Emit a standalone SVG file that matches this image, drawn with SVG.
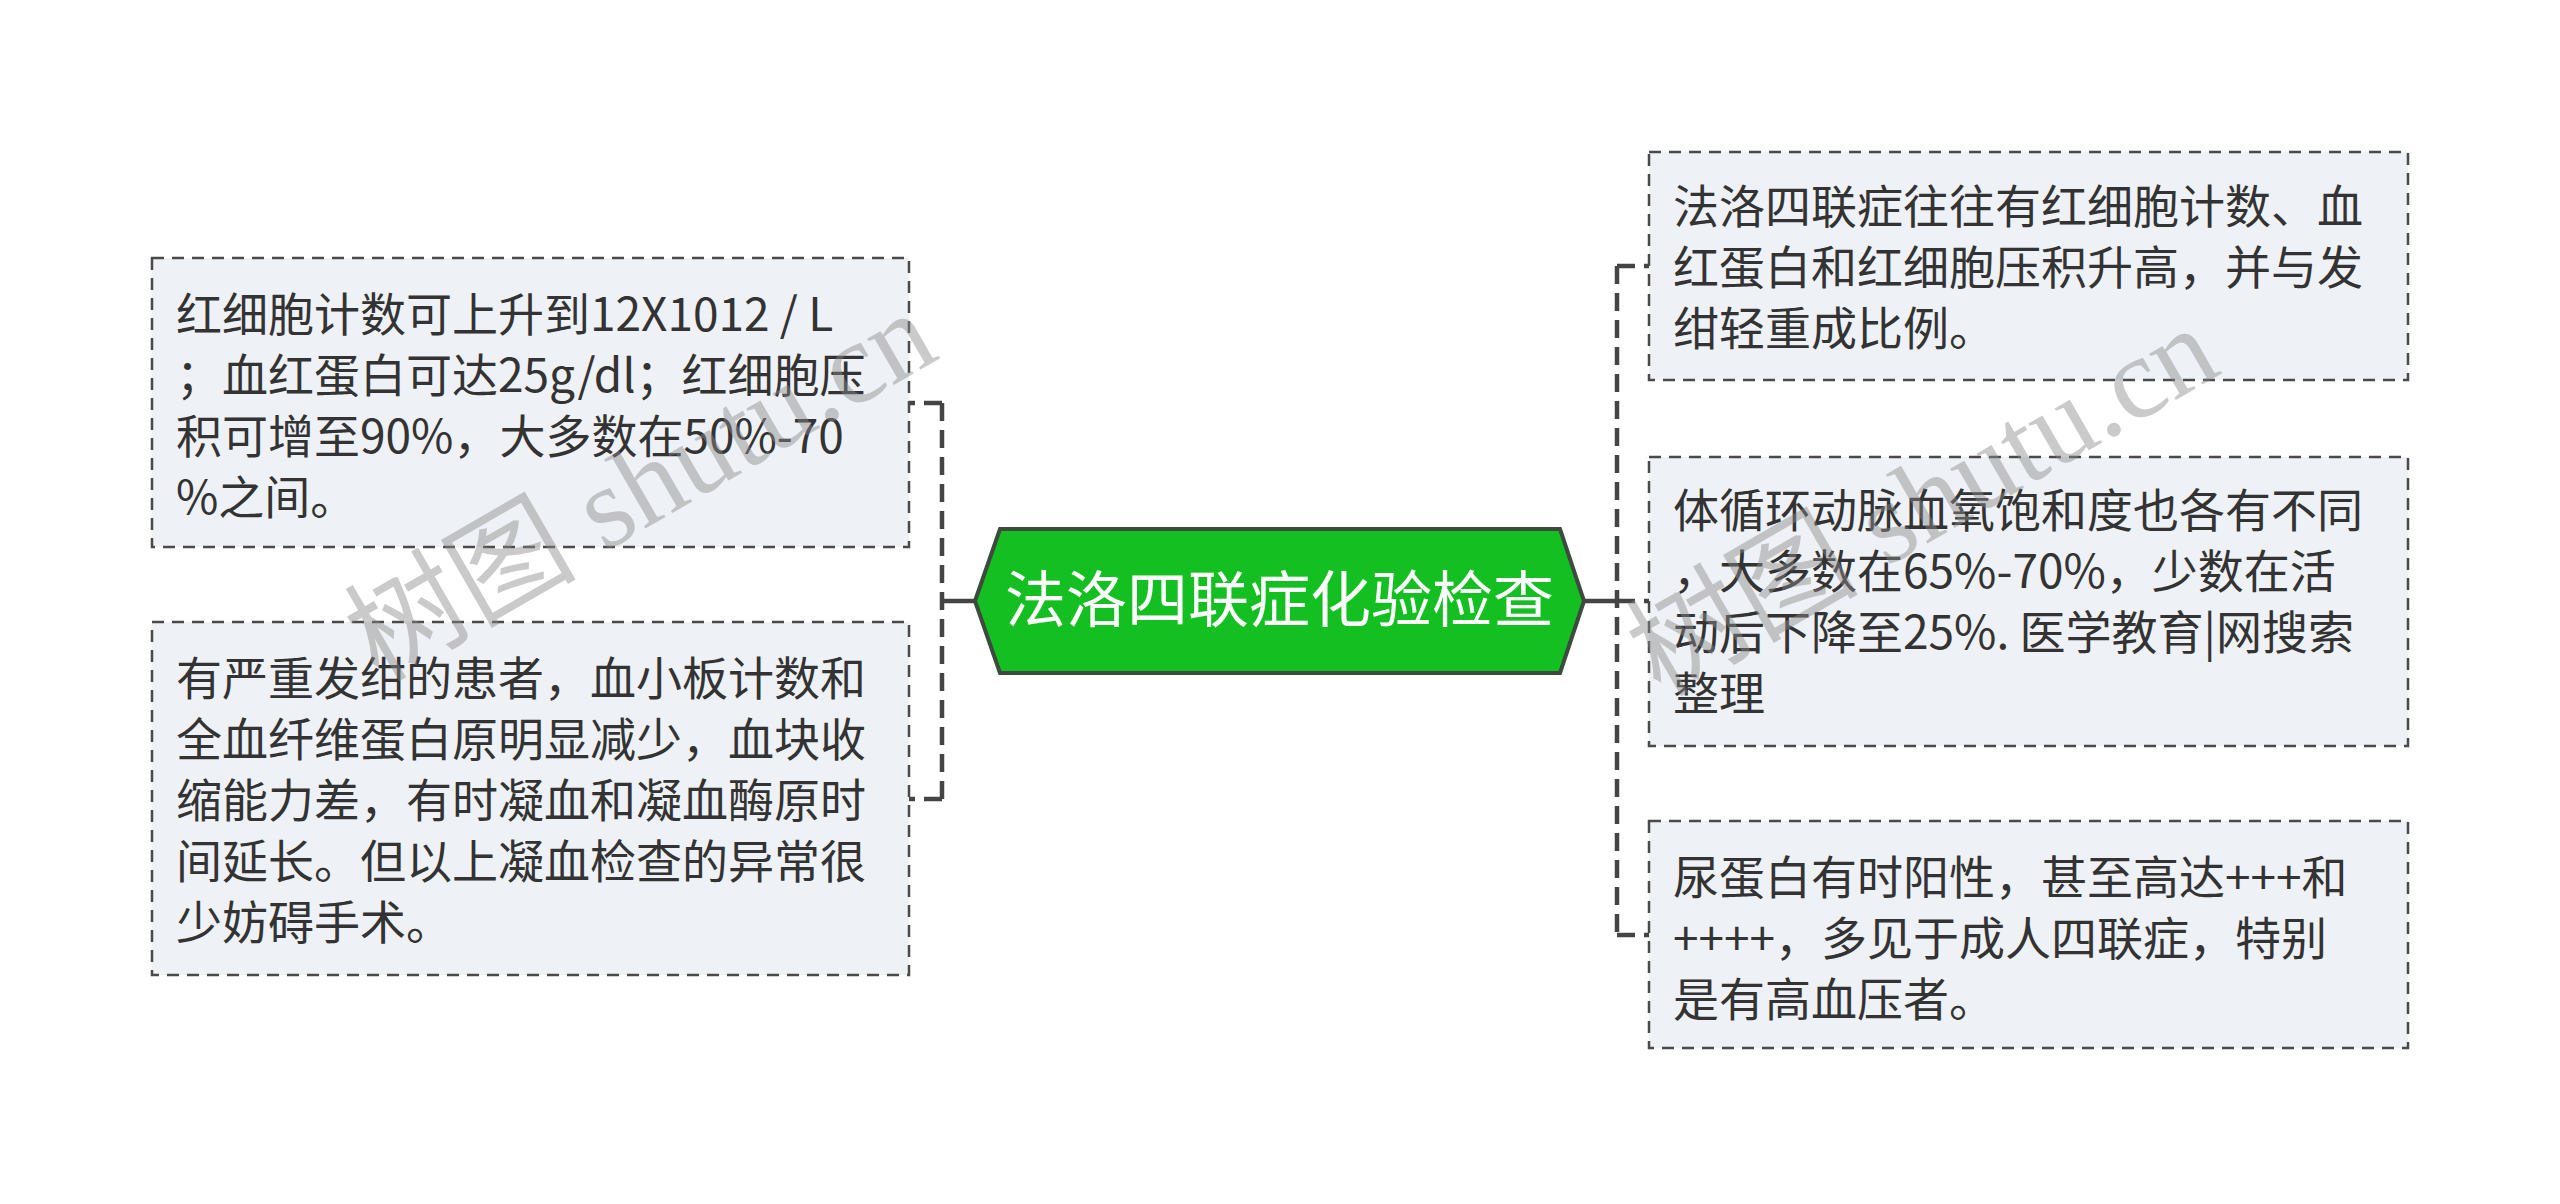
<svg xmlns="http://www.w3.org/2000/svg" width="2560" height="1204" viewBox="0 0 2560 1204">
<style>
.box{fill:#eef1f5;stroke:#4a4a4a;stroke-width:2.5;stroke-dasharray:12 8}
.t{font-family:"Noto Sans CJK SC","Noto Sans",sans-serif;font-size:46px;fill:#333333}
.ct{font-family:"Noto Sans CJK SC","Noto Sans",sans-serif;font-size:61px;fill:#ffffff}
.dash{fill:none;stroke:#444444;stroke-width:4.5;stroke-dasharray:18 9}
.solid{fill:none;stroke:#444444;stroke-width:4.5}
.wm{font-family:"Liberation Serif","Noto Sans CJK SC",serif;font-size:116px;fill:#8a8a8a;fill-opacity:0.45}
</style>
<rect width="2560" height="1204" fill="#ffffff"/>
<g id="connectors">
<path class="solid" d="M975 601 H942"/>
<path class="dash" d="M942 403 V799"/>
<path class="dash" d="M942 403 H909 M942 799 H909"/>
<path class="solid" d="M1584 601 H1617"/>
<path class="dash" d="M1617 266 V935"/>
<path class="dash" d="M1617 266 H1649 M1617 601 H1649 M1617 935 H1649"/>
</g>
<g id="center">
<polygon points="975,601 1000,529 1560,529 1584,601 1560,673 1000,673" fill="#14c021" stroke="#3d4a3e" stroke-width="4"/>
<text class="ct" x="1279.5" y="622" text-anchor="middle">法洛四联症化验检查</text>
</g>
<g id="left1">
<rect class="box" x="152" y="258" width="757" height="289"/>
<text class="t" x="176" y="331">红细胞计数可上升到12X1012 / L</text>
<text class="t" x="176" y="392">；血红蛋白可达25g/dl；红细胞压</text>
<text class="t" x="176" y="453">积可增至90%，大多数在50%-70</text>
<text class="t" x="176" y="514">%之间。</text>
</g>
<g id="left2">
<rect class="box" x="152" y="622" width="757" height="353"/>
<text class="t" x="176" y="695">有严重发绀的患者，血小板计数和</text>
<text class="t" x="176" y="756">全血纤维蛋白原明显减少，血块收</text>
<text class="t" x="176" y="817">缩能力差，有时凝血和凝血酶原时</text>
<text class="t" x="176" y="878">间延长。但以上凝血检查的异常很</text>
<text class="t" x="176" y="939">少妨碍手术。</text>
</g>
<g id="right1">
<rect class="box" x="1649" y="152" width="759" height="228"/>
<text class="t" x="1673" y="223">法洛四联症往往有红细胞计数、血</text>
<text class="t" x="1673" y="284">红蛋白和红细胞压积升高，并与发</text>
<text class="t" x="1673" y="345">绀轻重成比例。</text>
</g>
<g id="right2">
<rect class="box" x="1649" y="457" width="759" height="289"/>
<text class="t" x="1673" y="527">体循环动脉血氧饱和度也各有不同</text>
<text class="t" x="1673" y="588">，大多数在65%-70%，少数在活</text>
<text class="t" x="1673" y="649">动后下降至25%. 医学教育|网搜索</text>
<text class="t" x="1673" y="710">整理</text>
</g>
<g id="right3">
<rect class="box" x="1649" y="821" width="759" height="227"/>
<text class="t" x="1673" y="894">尿蛋白有时阳性，甚至高达+++和</text>
<text class="t" x="1673" y="955">++++，多见于成人四联症，特别</text>
<text class="t" x="1673" y="1016">是有高血压者。</text>
</g>
<g id="watermarks">
<text class="wm" x="0" y="0" text-anchor="middle" transform="translate(660,520) rotate(-30)">树图 shutu.cn</text>
<text class="wm" x="0" y="0" text-anchor="middle" transform="translate(1942,535) rotate(-30)">树图 shutu.cn</text>
</g>
</svg>
